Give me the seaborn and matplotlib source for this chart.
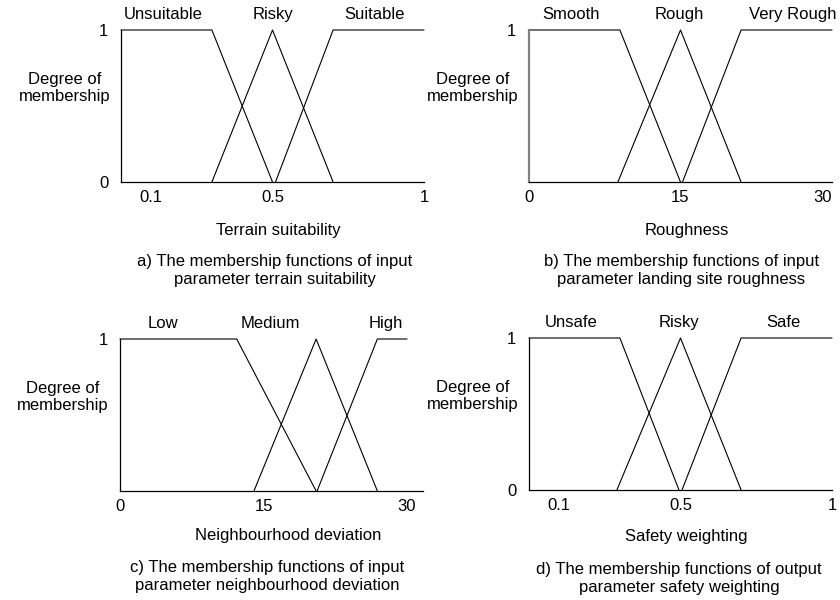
import matplotlib
matplotlib.use("Agg")
import matplotlib.pyplot as plt
import numpy as np
import pandas as pd
import seaborn as sns

sns.set_theme(style="white")
plt.rcParams["font.family"] = ["Liberation Sans", "DejaVu Sans"]
plt.rcParams["font.size"] = 12

# membership shapes: left shoulder, triangle, right shoulder
shape_mu = [[1, 1, 0], [0, 1, 0], [0, 1, 1]]

# a) terrain suitability
a_terms = ["Unsuitable", "Risky", "Suitable"]
a_x = [[0, 0.30, 0.50], [0.30, 0.50, 0.70], [0.51, 0.70, 1.0]]
a_label_x = [0.14, 0.50, 0.835]
a_xticks = [0.1, 0.5, 1]
a_xticklabels = ["0.1", "0.5", "1"]

# b) roughness
b_terms = ["Smooth", "Rough", "Very Rough"]
b_x = [[0, 9.0, 15.0], [8.8, 15.0, 21.0], [15.2, 21.0, 30.0]]
b_label_x = [4.2, 14.9, 26.1]
b_xticks = [0, 15, 30]
b_xticklabels = ["0", "15", "30"]

# c) neighbourhood deviation
c_terms = ["Low", "Medium", "High"]
c_x = [[0, 12.2, 20.5], [14.0, 20.5, 26.9], [20.6, 26.9, 30.0]]
c_label_x = [4.5, 15.7, 27.8]
c_xticks = [0, 15, 30]
c_xticklabels = ["0", "15", "30"]

# d) safety weighting
d_terms = ["Unsafe", "Risky", "Safe"]
d_x = [[0, 0.30, 0.495], [0.29, 0.50, 0.70], [0.505, 0.70, 1.0]]
d_label_x = [0.14, 0.495, 0.84]
d_xticks = [0.1, 0.5, 1]
d_xticklabels = ["0.1", "0.5", "1"]

xlabels = ["Terrain suitability", "Roughness", "Neighbourhood deviation", "Safety weighting"]
captions = [
    "a) The membership functions of input\nparameter terrain suitability",
    "b) The membership functions of input\nparameter landing site roughness",
    "c) The membership functions of input\nparameter neighbourhood deviation",
    "d) The membership functions of output\nparameter safety weighting",
]


def to_frame(terms, xs):
    rows = []
    for term, x, mu in zip(terms, xs, shape_mu):
        for xi, mi in zip(x, mu):
            rows.append({"term": term, "x": xi, "mu": mi})
    return pd.DataFrame(rows)


W, H = 840, 600
fig = plt.figure(figsize=(8.4, 6.0), dpi=100)

panels = [
    dict(terms=a_terms, xs=a_x, lab=a_label_x, xt=a_xticks, xtl=a_xticklabels,
         yt=[0, 1], xlim=(0, 1), rect=(121, 182),
         ylab=(-0.185, 0.62), xlab=(0.52, -0.316), cap=(0.508, -0.585)),
    dict(terms=b_terms, xs=b_x, lab=b_label_x, xt=b_xticks, xtl=b_xticklabels,
         yt=[1], xlim=(0, 30), rect=(529, 182),
         ylab=(-0.185, 0.62), xlab=(0.52, -0.316), cap=(0.503, -0.585)),
    dict(terms=c_terms, xs=c_x, lab=c_label_x, xt=c_xticks, xtl=c_xticklabels,
         yt=[1], xlim=(0, 31.67), rect=(120, 491),
         ylab=(-0.19, 0.62), xlab=(0.554, -0.29), cap=(0.485, -0.562)),
    dict(terms=d_terms, xs=d_x, lab=d_label_x, xt=d_xticks, xtl=d_xticklabels,
         yt=[0, 1], xlim=(0, 1), rect=(529, 490),
         ylab=(-0.185, 0.62), xlab=(0.518, -0.309), cap=(0.495, -0.579)),
]

for i, p in enumerate(panels):
    left, bottom = p["rect"]
    ax = fig.add_axes([left / W, 1 - bottom / H, 303 / W, 152 / H])
    df = to_frame(p["terms"], p["xs"])
    sns.lineplot(data=df, x="x", y="mu", hue="term", palette=["black"] * 3,
                 estimator=None, sort=False, legend=False, lw=0.8,
                 clip_on=False, ax=ax)
    ax.set_xlim(*p["xlim"])
    ax.set_ylim(0, 1)
    ax.set_xticks(p["xt"], p["xtl"])
    ax.set_yticks(p["yt"], [str(v) for v in p["yt"]])
    ax.tick_params(length=0, labelsize=12, colors="black")
    ax.tick_params(axis="x", pad=6)
    ax.tick_params(axis="y", pad=9)
    for s in ["top", "right"]:
        ax.spines[s].set_visible(False)
    for s in ["left", "bottom"]:
        ax.spines[s].set_color("black")
        ax.spines[s].set_linewidth(0.9)
    if i == 1:
        ax.spines["left"].set_color("#808080")
        ax.spines["left"].set_linewidth(1.6)
        # last tick label sits inside the axis end
        ax.get_xticklabels()[-1].set_ha("right")
    for term, lx in zip(p["terms"], p["lab"]):
        ax.text(lx, 1.1, term, transform=ax.get_xaxis_transform(),
                ha="center", va="center", fontsize=12, color="black")
    ax.set_ylabel("Degree of\nmembership", rotation=0, ha="center", va="center",
                  fontsize=12, color="black")
    ax.yaxis.set_label_coords(*p["ylab"])
    ax.set_xlabel(xlabels[i], va="center", fontsize=12, color="black")
    ax.xaxis.set_label_coords(*p["xlab"])
    ax.text(p["cap"][0], p["cap"][1], captions[i], transform=ax.transAxes,
            ha="center", va="center", fontsize=12, linespacing=1.25,
            color="black")

fig.savefig("out.png", dpi=100, facecolor="white")
